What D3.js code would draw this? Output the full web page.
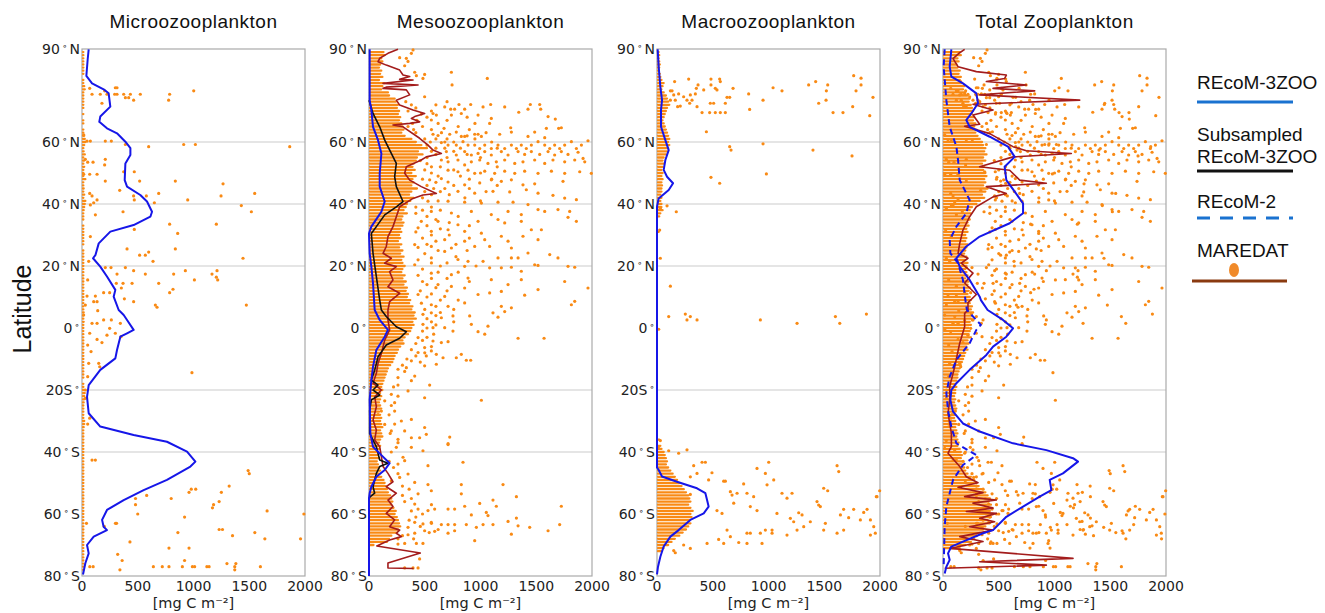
<!DOCTYPE html>
<html><head><meta charset="utf-8">
<script src="https://cdn.jsdelivr.net/npm/d3@7"></script>
<style>body{margin:0;background:#fff}svg{display:block}</style>
</head><body>
<svg id="c" width="1325" height="613"></svg>
<script>
// ---------------- DATA ----------------
const panelTitles = ["Microozooplankton", "Mesoozooplankton", "Macroozooplankton", "Total Zooplankton"];
const latTicks = [90, 60, 40, 20, 0, -20, -40, -60, -80];
const latTickNum = ["90", "60", "40", "20", "0", "20S", "40", "60", "80"];
const latTickSuffix = ["N", "N", "N", "N", "", "", "S", "S", "S"];
const gridLats = [60, 40, 20, -20, -40];
const xTicks = [0, 500, 1000, 1500, 2000];
const xLabel = "[mg C m\u207B\u00B2]";
const yLabel = "Latitude";
const legendNames = ["REcoM-3ZOO", "Subsampled", "REcoM-3ZOO", "REcoM-2", "MAREDAT"];

// dense observation rows: row edge value per 1 deg latitude, rows from 89 down to -78
const bandTopLat = 89;
const microBand = [12,12,12,12,12,12,12,12,0,12, 12,20,25,12,12,12,12,12,12,0, 12,0,12,12,0,12,12,20,25,30,
 20,12,15,25,12,20,12,20,12,12, 12,30,12,12,15,12,20,12,30,25, 20,15,12,12,12,0,12,12,12,12,
 12,12,12,0,12,12,12,12,12,12, 12,12,12,12,12,12,12,12,12,12, 12,12,12,12,15,12,12,15,12,12,
 12,12,12,12,12,12,12,12,12,12, 12,12,12,12,12,12,0,12,12,20, 25,20,20,15,12,12,12,12,12,20,
 20,15,12,12,12,12,12,12,12,12, 12,12,12,12,12,12,12,12,12,12, 12,12,12,12,12,12,12,12,12,12,
 12,12,12,12,12,12,12,12,12,12, 12,12,12,12,12,12,12,12];
const mesoBand = [130,140,110,120,100,90,110,100,120,90, 140,120,110,170,180,230,240,260,250,270,
 260,280,270,290,300,310,290,320,380,420, 470,520,440,480,430,420,400,390,410,380,
 420,390,400,380,430,380,360,400,370,340, 330,310,340,300,290,310,300,280,290,270,
 280,260,290,270,300,280,310,290,300,320, 300,290,320,300,330,310,340,330,350,340,
 370,360,390,380,410,400,420,390,400,380, 370,350,320,300,310,280,260,250,230,220,
 210,190,170,160,150,140,130,120,110,120, 100,110,100,90,100,110,90,100,110,100,
 110,120,100,110,120,100,90,100,90,80, 80,90,70,80,90,100,90,110,130,140,
 150,160,170,190,200,210,200,220,240,230, 250,260,270,280,260,250,200,180,160,40,
 0,0,0,0,0,0,0,0];
const macroBand = [15,20,15,20,25,20,15,25,30,40, 60,50,40,60,80,90,100,110,90,80,
 70,60,50,60,70,80,90,100,110,100, 110,100,90,80,60,50,60,50,40,50,
 40,50,40,45,40,40,30,40,30,40, 40,50,30,20,0,0,0,0,15,0,
 0,0,0,0,0,0,0,0,0,0, 0,0,0,0,0,0,0,0,0,0, 0,0,0,0,0,0,0,0,0,0,
 0,0,0,0,0,0,0,0,0,0, 0,0,0,0,0,0,0,0,0,0, 0,0,0,0,0,0,0,0,0,0,
 0,0,0,0,0,20,0,30,40,60, 70,80,90,80,100,120,140,160,180,200,
 220,240,260,280,290,300,280,300,320,300, 310,290,300,280,260,230,200,160,130,100,
 60,40,0,0,0,0,0,0];
const totalBand = [150,160,130,140,120,130,150,140,160,150, 170,190,180,200,220,240,230,250,260,270,
 260,280,270,290,280,300,290,310,330,350, 360,380,370,390,360,380,350,370,360,380,
 390,370,380,360,400,380,350,370,330,300, 260,240,250,230,240,220,230,210,220,200,
 210,200,220,210,200,190,210,200,220,210, 200,210,220,200,230,220,240,230,220,240,
 250,240,260,250,270,260,250,240,250,230, 240,230,250,220,230,210,220,200,190,180,
 170,160,150,140,130,130,120,110,120,110, 110,100,110,100,110,120,100,110,100,110,
 120,110,120,130,120,130,140,130,150,160, 170,160,180,170,190,200,220,250,280,300,
 320,350,380,400,420,410,430,440,420,450, 430,400,420,380,360,330,300,280,250,200,
 150,0,0,0,0,0,0,0];

// scattered observations [lat, value]
const microPts = [[77.3,69],[75.4,90],[75.4,164],[76.5,203],[75.4,224],[77.5,299],[77.5,314],[75.4,293],[75.4,314],[75.4,374],[74.3,389],[74.3,419],[75.4,434],[73.5,463],[75.4,523],[75.4,786],[73.5,777],[76.5,1002],[72.5,179],
 [62.3,15],[60.3,45],[60.3,75],[60.3,209],[60.3,263],[59.2,389],[58.5,598],[59.2,912],[59.2,1017],[58.5,1863],
 [54.4,30],[53.5,51],[53.5,99],[54.4,209],[52.6,203],[49.6,15],[49.6,69],[49.6,135],[47.4,209],[50.4,374],[50.4,469],[47.4,517],[47.4,837],[46.5,1265],[44.4,338],
 [43.4,69],[42.6,90],[41.3,135],[42.6,463],[41.3,469],[42.6,577],[43.4,688],[40.4,649],[41.3,948],[42.6,1247],[43.4,1549],[39.7,75],[40.4,105],[39.5,1429],[37.5,1519],[37.5,368],[36.5,120],[33.5,1205],[33.5,786],[30.5,858],[29.5,75],[31.8,469],
 [25.5,404],[24.5,598],[23.5,517],[23.5,568],[21.5,637],[25.5,837],[22.5,1444],[21.5,60],
 [19.5,209],[19.5,260],[19.5,389],[18.5,463],[17.4,568],[17.4,822],[18.5,927],[15.5,1008],[17.4,1166],[16.4,1205],[15.5,1217],[18.5,1211],[15.5,51],[17.4,314],[14.4,308],[14.4,368],[12.9,353],[14.4,449],[14.4,688],
 [11.4,248],[11.4,194],[10.3,120],[10.3,45],[9.4,380],[8.5,463],[7.4,658],[6.7,673],[11.4,786],[12.5,816],[7.4,1474],[7.4,30],[8.5,105],[8.5,135],
 [5.6,141],[4.2,15],[1.5,90],[1.5,135],[2.6,194],[2.6,263],[1.5,344],[-0.1,248],[-1.7,69],[-2.3,224],[-1.7,299],[-2.8,350],[-3.7,135],[-4.7,179],[-5.5,51],[-7.6,81],[-11.4,60],[-11.4,150],[-12.5,159],[-15.7,51],[-14.4,986],[-20,30],[-22.7,30],[-29.1,69],[-31,51],[-42.6,120],[-42.6,90],
 [-46,1490],[-47,1500],[-51,1320],[-52,980],[-52,1020],[-53,960],[-53,1250],[-54,580],[-55,800],[-56,1230],[-57,1180],[-58,1170],[-55,480],[-57,480],[-59,1660],[-60,1990],[-60,500],[-61,920],[-63,40],[-63,300],[-63,310],[-64,200],[-65,1260],[-65,1230],[-66,1550],[-66,860],[-67,1350],[-68,1640],[-68,1960],[-69,430],[-71,960],[-71,780],[-73,320],[-75,360],[-75,920],[-76,1300],[-76,1380],[-77,640],[-77,720],[-77,780],[-77,900],[-77,990],[-77,1010],[-77,1120],[-77,1140],[-77,1370],[-77,1600],[-77,70],[-77,100],[-78,340],[-78,1370]];

const mesoPts = [[89.7,395],[88.6,380],[87.2,275],[87,335],[86,350],[84.6,320],[82.5,410],[81.8,499],[81.4,425],[80.5,484],[82.5,739],[78.4,745],[80.5,1061],[74.6,499],[71.3,679],[70.6,733],[70.6,768],[72.1,807],[70.6,858],[72.1,912],[69.2,828],[68.7,978],[71.3,1023],[72.1,1091],[71.3,1217],[69.6,1343],[70.6,1426],[72.1,1447],[72.1,1531],[70.6,1540],[68.2,1606],[67.4,1671],[67.6,1097],[66,1082],[68.7,739],[68.7,604],[67.1,559],[69.2,574],[64.4,673],[62.5,574],[62.1,619],[62.5,724],[63.2,783],[61.8,828],[61.8,858],[62.5,948],[62.5,978],[61.8,1008],[62.5,1172],[64.6,1271],[63.2,1277],[61.8,1426],[63.2,1486],[64.4,1591],[64.4,1701],[64.6,1725],[61.4,1576],
 [59.8,649],[59,709],[59,783],[60.1,843],[59,888],[59,948],[57.9,993],[59,1038],[57.9,1097],[59,1157],[57.9,1217],[59,1277],[57.9,1322],[59,1366],[57.9,1411],[59,1456],[60.1,1516],[59,1576],[57.9,1621],[59,1665],[57.9,1710],[59,1755],[60.1,1815],[57.9,1860],[59,1905],[60.4,1964],
 [56.9,694],[55.8,783],[56.9,858],[55.8,918],[56.3,978],[56.9,1038],[55.8,1097],[56.9,1187],[55.8,1247],[56.9,1337],[56,1396],[56.9,1456],[56,1531],[56.9,1606],[55.8,1665],[56.9,1725],[56,1785],[56.7,1875],[54.7,1920],[53.6,1935],
 [54.2,649],[53.6,709],[54.2,798],[52.6,858],[53.6,918],[54.2,993],[53.1,1067],[53.6,1142],[54.2,1217],[53.1,1307],[53.6,1381],[54.2,1486],[53.1,1576],[54.2,1650],[53.6,1755],[54.2,1845],
 [50.9,709],[50.4,798],[50.9,888],[49.9,948],[50.6,1038],[49.9,1127],[50.6,1217],[49.9,1307],[50.6,1396],[49.9,1516],[50.6,1636],[49.9,1755],[50.4,1890],[49.9,1994],
 [47.8,544],[48.2,649],[47.1,709],[46.2,858],[46.8,993],[47.8,1097],[47.3,1187],[47.8,1277],[46.2,1381],[46.5,1486],[47.3,1740],[44.1,798],[43.5,948],[44.1,1112],[43.9,1262],[44.6,1411],[43.5,1516],[42.8,1650],[41.9,1755],[41.4,1860],[40.9,529],[40.9,709],[40.6,858],[40.3,1008],[40.6,1157],[40.6,1292],[39.8,1426],[37.6,1576],[38.2,1695],[37.6,1800],[34.4,1860],[37.6,559],[37.1,739],[37.6,918],[36.6,1097],[37.6,1247],[36.6,1366],[38.2,1516],[35.7,1785],[34.4,469],[34.4,619],[33.3,798],[34.4,978],[35,1157],[33.9,1217],[34.4,1366],[31.2,559],[31.7,709],[31.2,858],[30.6,1008],[32.3,440],[29.6,1187],[28,1247],[25.8,1277],[29.6,1381],[31.7,1456],[31.7,1546],[28.5,1516],[28.5,679],[28,858],[28.5,1038],[26.9,410],[26.3,559],[25.8,739],[26.3,948],[26.3,1082],[22.6,1277],[22.6,1337],[24.2,1426],[23.7,1621],[22.6,1695],[22.6,559],[24.7,679],[22.1,798],[21.5,888],[21.5,1023],[22.6,1157],[20.4,410],[19.9,858],[19.4,1082],[19.4,1187],[19.6,1277],[18.3,1366],[20.4,1486],[20.2,1516],[19.9,1785],[19.6,1845],[17.7,559],[17.2,739],[16.1,888],[14,619],[13.4,739],[12.9,858],[15.6,1097],[14,1247],[15.6,1366],[12.4,1516],[15,1755],[12.9,1964],[10.8,440],[10.2,679],[10.8,978],[11.3,1082],[11.8,1187],[10.6,1396],[7.5,559],[7,709],[8.1,858],[7,1187],[6.5,1277],[8.6,1845],[7.5,1815],
 [4.4,484],[4.9,559],[3.3,649],[3.9,753],[1.2,918],[0.6,1067],[4.9,1112],[3.5,1157],[5.3,1217],[3.9,903],[-1.2,978],[-2,1038],[1.2,484],[0.1,574],[0.1,679],[-1,753],[-3.1,440],[-4.2,574],[-4.7,649],[-4.4,709],[-6.3,499],[-7.4,559],[-8.5,604],[-7.9,440],[-10.6,380],[-9,514],[-9.6,664],[-11.7,604],[-9.6,783],[-8.5,828],[-10.4,873],[-10.4,912],[-3.3,1337],[-3.3,1570],[-13.3,260],[-12.8,335],[-15.5,410],[-12.2,499],[-18.4,544],[-18.4,260],[-20.3,350],[-22.5,499],[-23.3,1008],[-21.4,200],[-24.1,230],[-23.5,141],[-29.5,380],[-26.8,230],[-30,290],[-32.1,499],[-34.3,514],[-33.2,320],[-35.4,380],[-35.4,454],[-35.9,260],[-35.2,724],[-37.3,709],[-31.1,141],[-33.2,200],[-26.8,111],[-27.9,81],
 [-38.5,245],[-38.5,380],[-39.6,484],[-37.6,709],[-41.7,305],[-42.8,320],[-43.9,260],[-44.4,529],[-43.3,843],[-47.1,350],[-48.2,275],[-49.3,200],[-49.8,410],[-50.5,529],[-50.5,828],[-50.5,1202],[-53.5,440],[-52.5,559],[-53.5,828],[-54.4,1322],[-55.5,1112],[-56.6,993],[-57.5,1142],[-57.5,858],[-58.4,768],[-58.4,709],[-58.4,589],[-56.8,410],[-58.4,440],[-58.9,529],[-60.3,918],[-59.5,1052],[-60.5,1067],[-62.4,1247],[-61.3,1322],[-57.5,1725],[-63.8,1337],[-63.4,1112],[-63.4,1023],[-64.3,963],[-63.4,873],[-63.4,768],[-63.4,709],[-63.4,649],[-62.7,559],[-63.2,484],[-62.7,410],[-64.3,350],[-66.5,1277],[-64.3,1441],[-65.4,1606],[-63.4,1710],[-65.4,768],[-66.2,709],[-65.6,589],[-65.4,499],[-66.2,410],[-66.7,350],[-68.6,948],[-69.5,484],[-69.5,425],[-69.5,320],[-69.7,260],[-74.5,454],[-77.4,440],[-77.4,395],[-77.4,320],
 [73,330],[72,380],[71,420],[70,350],[69,470],[68,520],[67,430],[66,390],[65,480],[64,560],[63,420],[66,620],[65,350],[64,400],[63,650],[67,700],[70,560],[72,600],[73,700],[68,880],[66,950],[65,800],[64,900],[63,1050],[62,880],
 [61,500],[61,600],[60,550],[60,680],[60,760],[59,520],[58,600],[58,680],[57,560],[57,760],[56,600],[56,880],[55,520],[55,700],[55,1000],[58,820],[61,700],[61,950],[60,1100],[58,1150],
 [54,460],[53,520],[52,560],[52,640],[51,500],[51,760],[50,560],[49,620],[49,820],[48,480],[48,900],[47,600],[46,520],[46,760],[45,580],[45,680],[45,900],[44,500],[44,640],[43,560],[43,720],[42,480],[42,860],[41,620],[41,1000],[44,1050],[46,1150],[48,1100],[50,1000],[52,1150],
 [39,420],[39,560],[38,480],[38,640],[37,420],[36,520],[36,800],[35,600],[34,720],[33,520],[33,900],[32,640],[31,420],[30,560],[30,720],[29,480],[29,900],[28,600],[27,520],[27,780],[26,440],[25,620],[25,880],[24,500],[23,780],[22,440],[21,560],[21,700],[20,640],[20,960],
 [19,480],[18,620],[18,800],[17,440],[16,560],[16,700],[15,480],[15,900],[14,520],[13,600],[12,460],[12,700],[11,560],[10,520],[9,640],[9,800],[8,470],[7,600],[6,500],[6,760],[5,640],[4,600],[3,520],[2,560],[2,760],[1,600],[0,520],[-1,480],[-2,580],[-3,520],
 [-4,480],[-5,420],[-6,560],[-7,380],[-8,500],[-9,420],[-10,340],[-11,460],[-12,300],[-14,320],[-16,260],[-17,380],[-19,220],[-22,260],[-25,200],
 [-28,180],[-31,230],[-34,190],[-37,260],[-40,200],[-43,180],[-45,220],[-47,260],[-51,300],[-52,360],[-54,300],[-55,380],[-56,320],[-57,560],[-59,380],[-60,480],[-61,420],[-62,360],[-63,560],[-64,460],[-65,620],[-66,540],[-67,300],[-68,400],[-68,260]];

const macroPts = [[80.3,284],[79.5,158],[80.3,484],[80.3,562],[79.5,568],[77.3,523],[76.8,538],[77.3,682],[78.4,484],[76.8,419],[78.4,368],[77.3,353],[75.5,344],[75.2,299],[73.5,269],[74.6,239],[76.5,120],[76.5,135],[75.2,150],[75.5,194],[73.5,120],[73.5,164],[71.6,209],[71.4,185],[73.5,314],[72.5,293],[71.4,359],[69.5,404],[69.5,472],[69.5,523],[69.5,568],[69.5,613],[72.5,478],[72.5,508],[72.5,613],[74.4,628],[74.4,652],[75.5,822],[77.5,1041],[76.5,1121],[73.5,951],[70.5,831],[78.4,1360],[79.5,1423],[78.4,1531],[76.5,1519],[72.5,1450],[73.5,1516],[69.5,1579],[69.5,1668],[81.4,1764],[80.6,1830],[78.4,1830],[76.5,1785],[71.4,1755],[74.4,1937],[68.5,1908],[63.3,443],[58.5,652],[57.4,664],[59.4,951],[57.4,1399],[55.5,1749],[49.7,981],[48.6,484],[46.7,562],[37.5,173],[39.4,90],[38.6,30],[31.6,24],[22.5,30],[13.5,120],
 [-0.4,15],[3.7,105],[4.5,254],[3.7,299],[2.6,269],[2.6,359],[2.6,927],[3.7,1600],[1.5,1639],[4.5,1878],[1.5,1256],
 [-36.3,30],[-38.8,15],[-39.6,105],[-40.4,194],[-39.3,269],[-43.3,404],[-43.3,434],[-43.3,1002],[-45.3,897],[-44.4,1615],[-46.3,1630],[-46.7,493],[-49,463],[-49.4,598],[-49.4,613],[-44.4,329],[-46.9,359],[-48,299],[-50.3,777],[-50.6,987],[-49,1047],[-46.9,972],[-53.3,1121],[-54.9,1166],[-53.3,1211],[-51.7,1495],[-52.5,1531],[-52.5,1997],[-54.4,1967],[-53.7,299],[-52.8,658],[-53.9,673],[-53.3,718],[-53.3,807],[-54.4,867],[-57.6,1465],[-56,1435],[-57.1,1450],[-58.5,1674],[-58.5,1764],[-58.5,1884],[-59.5,1854],[-60.3,1645],[-61.2,1719],[-61.9,1824],[-61.9,1914],[-54.4,1973],[-57.6,837],[-58.9,897],[-59.8,1076],[-56.5,688],[-58.9,538],[-59.8,583],[-61.4,1196],[-59.6,1271],[-60.3,1301],[-62.5,1226],[-65.2,1032],[-66.8,1166],[-65.2,1256],[-64.1,1316],[-62.5,1375],[-65.2,1495],[-63,1510],[-66.2,1615],[-65.2,1674],[-64.1,1944],[-66.2,1958],[-66.8,1914],[-66.2,807],[-66.2,837],[-66.2,927],[-65.2,972],[-66.2,1032],[-65.2,628],[-67.3,658],[-69.2,733],[-68.2,553],[-69.5,449],[-69.5,598],[-69.5,807],[-69.5,942],[-70,239],[-71.1,299],[-71.8,150],[-72.5,164]];

// profiles [lat, value]
const microModel = [[89.9,60],[86.7,51],[81.3,39],[78.9,90],[77,194],[75.7,239],[71.4,254],[68.2,164],[66.5,155],[64.4,224],[62.8,314],[60.1,389],[58,434],[55.8,434],[53.1,389],[47.7,383],[45.6,404],[42.9,523],[40.8,583],[37.5,628],[35.9,613],[33.2,463],[31.1,254],[27.3,150],[23.5,120],[22.5,99],[19.8,164],[16.6,224],[12.3,299],[10.1,284],[5.8,329],[4.2,374],[2.6,404],[-0.6,463],[-1.7,404],[-2.8,344],[-7.1,314],[-9.8,299],[-13.5,164],[-18.4,60],[-22.2,45],[-27.5,60],[-31.8,164],[-34.5,463],[-36.7,762],[-39.9,942],[-43.1,1017],[-44.7,972],[-49,762],[-52.3,553],[-55.5,374],[-58.7,224],[-61.9,180],[-64.1,194],[-65.2,224],[-67.3,105],[-70,45],[-72.7,60],[-75.9,30],[-79.5,9]];
const mesoModel = [[89.9,6],[73.5,6],[70.3,21],[64.9,36],[60.6,81],[56.3,111],[49.9,96],[45.6,96],[40.8,141],[37.5,111],[32.7,21],[30.5,0],[24.1,6],[19.8,21],[14.4,36],[5.8,51],[2.6,96],[-0.6,170],[-2.8,141],[-7.1,66],[-12.5,36],[-16.8,21],[-23.2,6],[-34,12],[-38.3,36],[-41,111],[-43.6,185],[-45.8,141],[-48,66],[-51.2,21],[-53.3,6],[-55,0],[-80,0]];
const mesoSub = [[73.5,0],[69.2,36],[64.9,96],[60.6,141],[56.3,200],[53.1,245],[48.8,230],[45.6,245],[40.8,305],[39.1,245],[36.5,141],[32.7,66],[30.5,21],[24.1,36],[16.6,66],[9,96],[5.8,111],[3.7,155],[0.4,245],[-1.2,335],[-3.3,275],[-5.5,155],[-9.3,81],[-13.6,51],[-16.8,21],[-18.4,81],[-20,36],[-21.6,96],[-23.2,21],[-26.5,6],[-34,6],[-38.3,66],[-42.6,96],[-43.6,170],[-44.7,96],[-46.9,66],[-51.2,36],[-53.3,51],[-54.4,12],[-55,0]];
const mesoObs = [[89.9,260],[88.6,170],[87,96],[85.9,81],[84.8,155],[83.2,275],[81.6,305],[81.1,365],[80.2,275],[80,395],[78.9,126],[78.4,440],[77.7,155],[77.3,126],[76.8,335],[75.2,365],[73.5,245],[71.9,275],[70.3,395],[69.2,499],[68.2,410],[67.6,380],[66.5,454],[66,365],[65.5,215],[64.9,305],[61.2,454],[59,529],[57.4,574],[56.3,649],[55.2,514],[54.2,469],[52,335],[49.9,320],[47.7,365],[45.6,469],[43.4,604],[42.9,484],[41.8,395],[39.1,275],[35.9,245],[32.7,215],[29.5,170],[26.3,155],[24.1,126],[22.5,200],[20.9,141],[19.8,245],[18.2,185],[15.5,215],[13.3,170],[11.2,275],[8.5,185],[5.8,170],[2.6,170],[-0.6,185],[-3.9,141],[-8.2,111],[-11.4,81],[-14.6,66],[-17.8,36],[-20,111],[-22.2,51],[-25.4,66],[-29.7,36],[-32.9,66],[-36.1,51],[-38.3,96],[-41.5,111],[-44.7,126],[-46.9,170],[-49.6,215],[-51.2,155],[-53.3,245],[-55.5,170],[-57.6,215],[-59.8,155],[-61.9,230],[-64.1,185],[-65.2,275],[-66.2,245],[-67.3,290],[-68.4,185],[-70.3,70],[-72.6,460],[-75.8,170],[-77.4,170],[-77.6,400]];
const macroModel = [[89.9,6],[84.3,15],[77.8,30],[73.5,45],[70.3,36],[64.9,36],[60.6,75],[57.4,105],[54.2,75],[51,60],[48.8,90],[46.7,144],[44.5,105],[41.8,15],[39.1,0],[-45,0],[-45.8,15],[-47.9,45],[-49.6,179],[-51.7,359],[-53.3,434],[-55.5,449],[-57.6,463],[-59.8,419],[-61.9,299],[-65.2,194],[-67.3,120],[-70.5,60],[-73.8,30],[-77,9],[-79.5,0]];
const totalModel = [[89.9,75],[84.3,60],[81.1,75],[78.9,179],[75.7,299],[72.5,314],[69.2,254],[67.1,209],[64.9,239],[61.7,419],[58.5,583],[55.2,643],[52,553],[47.7,568],[44,643],[40.2,718],[37,718],[33.8,598],[29.5,329],[26.3,209],[22.5,120],[19.8,150],[15.5,239],[10.1,329],[9,340],[5.8,400],[2.6,538],[-0.1,628],[-2.8,568],[-6,449],[-8.7,389],[-13.5,239],[-17.8,120],[-20,75],[-23.2,66],[-27,90],[-30.8,179],[-33.4,329],[-37.2,628],[-39.4,927],[-42,1166],[-43.1,1211],[-46.9,1076],[-49,957],[-52.3,972],[-54.4,867],[-57.6,718],[-60.9,568],[-65.2,449],[-66.2,359],[-68.9,179],[-70.5,75],[-72.7,45],[-74.8,60],[-77,30],[-79.2,15]];
const totalR2 = [[89.9,15],[84.3,6],[73.5,30],[64.9,60],[58.5,120],[54.2,135],[47.7,150],[41.3,239],[37,209],[32.7,120],[28.4,60],[24.1,66],[20.9,135],[15.5,179],[7.9,205],[5.8,215],[1,340],[-0.6,299],[-4.9,239],[-10.3,120],[-15.7,60],[-21,30],[-26.5,45],[-31.9,75],[-37.2,120],[-41,299],[-44.2,179],[-49,90],[-53.3,60],[-57.6,30],[-64.1,15],[-77,6]];
const totalObs = [[89.9,194],[88.8,150],[86.9,90],[84.3,135],[82.7,299],[81.6,568],[80.5,553],[79.5,389],[78.4,748],[77.3,449],[76.5,822],[75.2,329],[73.5,1226],[72.2,269],[70.3,449],[68.7,269],[65.7,329],[65.1,194],[62.7,419],[58.5,628],[57.2,748],[56.3,1151],[55.2,628],[52,329],[50.9,598],[47.7,688],[46.7,927],[45.6,389],[43.4,568],[42.3,449],[39.1,299],[35.9,239],[31.6,179],[27.3,150],[24.1,135],[22.5,224],[20.9,164],[17.7,269],[14.5,194],[10.8,299],[8.2,224],[5.8,224],[4.7,194],[0.4,194],[-4.9,150],[-12.5,105],[-18.9,60],[-23.2,60],[-27.5,45],[-33.9,75],[-38.3,75],[-40.4,45],[-44.7,150],[-48,209],[-49.9,314],[-51.4,135],[-53.1,359],[-54.4,194],[-55.5,478],[-56.5,269],[-58.1,449],[-59.2,209],[-59.8,478],[-61.4,329],[-62.5,463],[-64.1,239],[-65.2,449],[-67.3,150],[-68.9,359],[-71.1,60],[-74.3,1166],[-75.4,329],[-76.5,927],[-77.5,15]];

// ---------------- DRAWING ----------------
const BLUE = "#1616e8", RED = "#a31c1c", ORANGE = "#f98a14", LEGBLUE = "#1a72d0";
const svg = d3.select("#c");
const panelLeft = [82, 369, 657, 943], panelW = 223, plotTop = 49, plotBottom = 576;
const y = d3.scaleLinear().domain([-80, 90]).range([plotBottom, plotTop]);

const panels = [
  {band: microBand, pts: microPts, lines: [{d: microModel, c: BLUE, w: 2}]},
  {band: mesoBand, pts: mesoPts, lines: [{d: mesoObs, c: RED, w: 1.6}, {d: mesoSub, c: "#111", w: 1.6}, {d: mesoModel, c: BLUE, w: 2}]},
  {band: macroBand, pts: macroPts, lines: [{d: macroModel, c: BLUE, w: 2}]},
  {band: totalBand, pts: mesoPts.concat(microPts, macroPts), lines: [{d: totalObs, c: RED, w: 1.6}, {d: totalR2, c: BLUE, w: 2, dash: "6,4"}, {d: totalModel, c: BLUE, w: 2}]}
];

panels.forEach((p, i) => {
  const x0 = panelLeft[i];
  const x = d3.scaleLinear().domain([0, 2000]).range([x0, x0 + panelW]);
  const g = svg.append("g");

  g.append("text").attr("x", x0 + panelW / 2).attr("y", 28).attr("text-anchor", "middle")
    .attr("font-family", "Liberation Sans, Arial, sans-serif").attr("font-size", 19).attr("letter-spacing", 0.5)
    .attr("fill", "#111").text(panelTitles[i]);

  g.selectAll("line.grid").data(gridLats).enter().append("line")
    .attr("x1", x0).attr("x2", x0 + panelW).attr("y1", d => y(d)).attr("y2", d => y(d))
    .attr("stroke", "#dcdcdc").attr("stroke-width", 1.3);

  g.append("rect").attr("x", x0).attr("y", plotTop).attr("width", panelW).attr("height", plotBottom - plotTop)
    .attr("fill", "none").attr("stroke", "#aaaaaa").attr("stroke-width", 1.2);

  const rows = p.band.map((v, k) => [bandTopLat - k, v]).filter(r => r[1] > 0);
  g.selectAll("line.band").data(rows).enter().append("line")
    .attr("x1", x(0) + 1).attr("x2", d => Math.max(x(d[1]), x(0) + 1))
    .attr("y1", d => y(d[0])).attr("y2", d => y(d[0]))
    .attr("stroke", ORANGE).attr("stroke-width", 2.3).attr("stroke-linecap", "round");

  g.selectAll("circle").data(p.pts).enter().append("circle")
    .attr("cx", d => x(d[1])).attr("cy", d => y(d[0])).attr("r", 1.6).attr("fill", ORANGE);

  const line = d3.line().x(d => x(d[1])).y(d => y(d[0]));
  p.lines.forEach(l => {
    g.append("path").attr("d", line(l.d)).attr("fill", "none").attr("stroke", l.c)
      .attr("stroke-width", l.w).attr("stroke-linejoin", "round")
      .attr("stroke-dasharray", l.dash || null);
  });

  latTicks.forEach((lat, k) => {
    const t = g.append("text").attr("x", x0 - 2).attr("y", y(lat) + 5).attr("text-anchor", "end")
      .attr("font-family", "DejaVu Sans, sans-serif").attr("font-size", 14).attr("fill", "#222");
    t.append("tspan").text(latTickNum[k]);
    t.append("tspan").attr("dx", 2).attr("dy", -5).attr("font-size", 9).text("\u2218");
    if (latTickSuffix[k]) t.append("tspan").attr("dx", 2).attr("dy", 5).text(latTickSuffix[k]);
  });

  g.selectAll("text.xt").data(xTicks).enter().append("text")
    .attr("x", d => x(d)).attr("y", 591).attr("text-anchor", "middle")
    .attr("font-family", "DejaVu Sans, sans-serif").attr("font-size", 14).attr("fill", "#222").text(d => d);

  g.append("text").attr("x", x0 + panelW / 2).attr("y", 608).attr("text-anchor", "middle")
    .attr("font-family", "DejaVu Sans, sans-serif").attr("font-size", 14.5).attr("fill", "#222").text(xLabel);
});

svg.append("text").attr("transform", "translate(31,309) rotate(-90)").attr("text-anchor", "middle")
  .attr("font-family", "Liberation Sans, Arial, sans-serif").attr("font-size", 25).attr("fill", "#111").text(yLabel);

const lg = svg.append("g").attr("font-family", "Liberation Sans, Arial, sans-serif").attr("font-size", 19).attr("fill", "#111");
lg.append("text").attr("x", 1197).attr("y", 89).text(legendNames[0]);
lg.append("line").attr("x1", 1197).attr("x2", 1293).attr("y1", 102).attr("y2", 102).attr("stroke", LEGBLUE).attr("stroke-width", 3);
lg.append("text").attr("x", 1197).attr("y", 141).text(legendNames[1]);
lg.append("text").attr("x", 1197).attr("y", 163).text(legendNames[2]);
lg.append("line").attr("x1", 1197).attr("x2", 1293).attr("y1", 171).attr("y2", 171).attr("stroke", "#111").attr("stroke-width", 3);
lg.append("text").attr("x", 1197).attr("y", 208).text(legendNames[3]);
lg.append("line").attr("x1", 1197).attr("x2", 1293).attr("y1", 218).attr("y2", 218).attr("stroke", LEGBLUE).attr("stroke-width", 3).attr("stroke-dasharray", "13,10");
lg.append("text").attr("x", 1197).attr("y", 257).text(legendNames[4]);
lg.append("ellipse").attr("cx", 1234).attr("cy", 270).attr("rx", 5).attr("ry", 7).attr("fill", "#f08a2a");
lg.append("line").attr("x1", 1192).attr("x2", 1287).attr("y1", 281).attr("y2", 281).attr("stroke", "#8a3a10").attr("stroke-width", 3);
</script>
</body></html>
